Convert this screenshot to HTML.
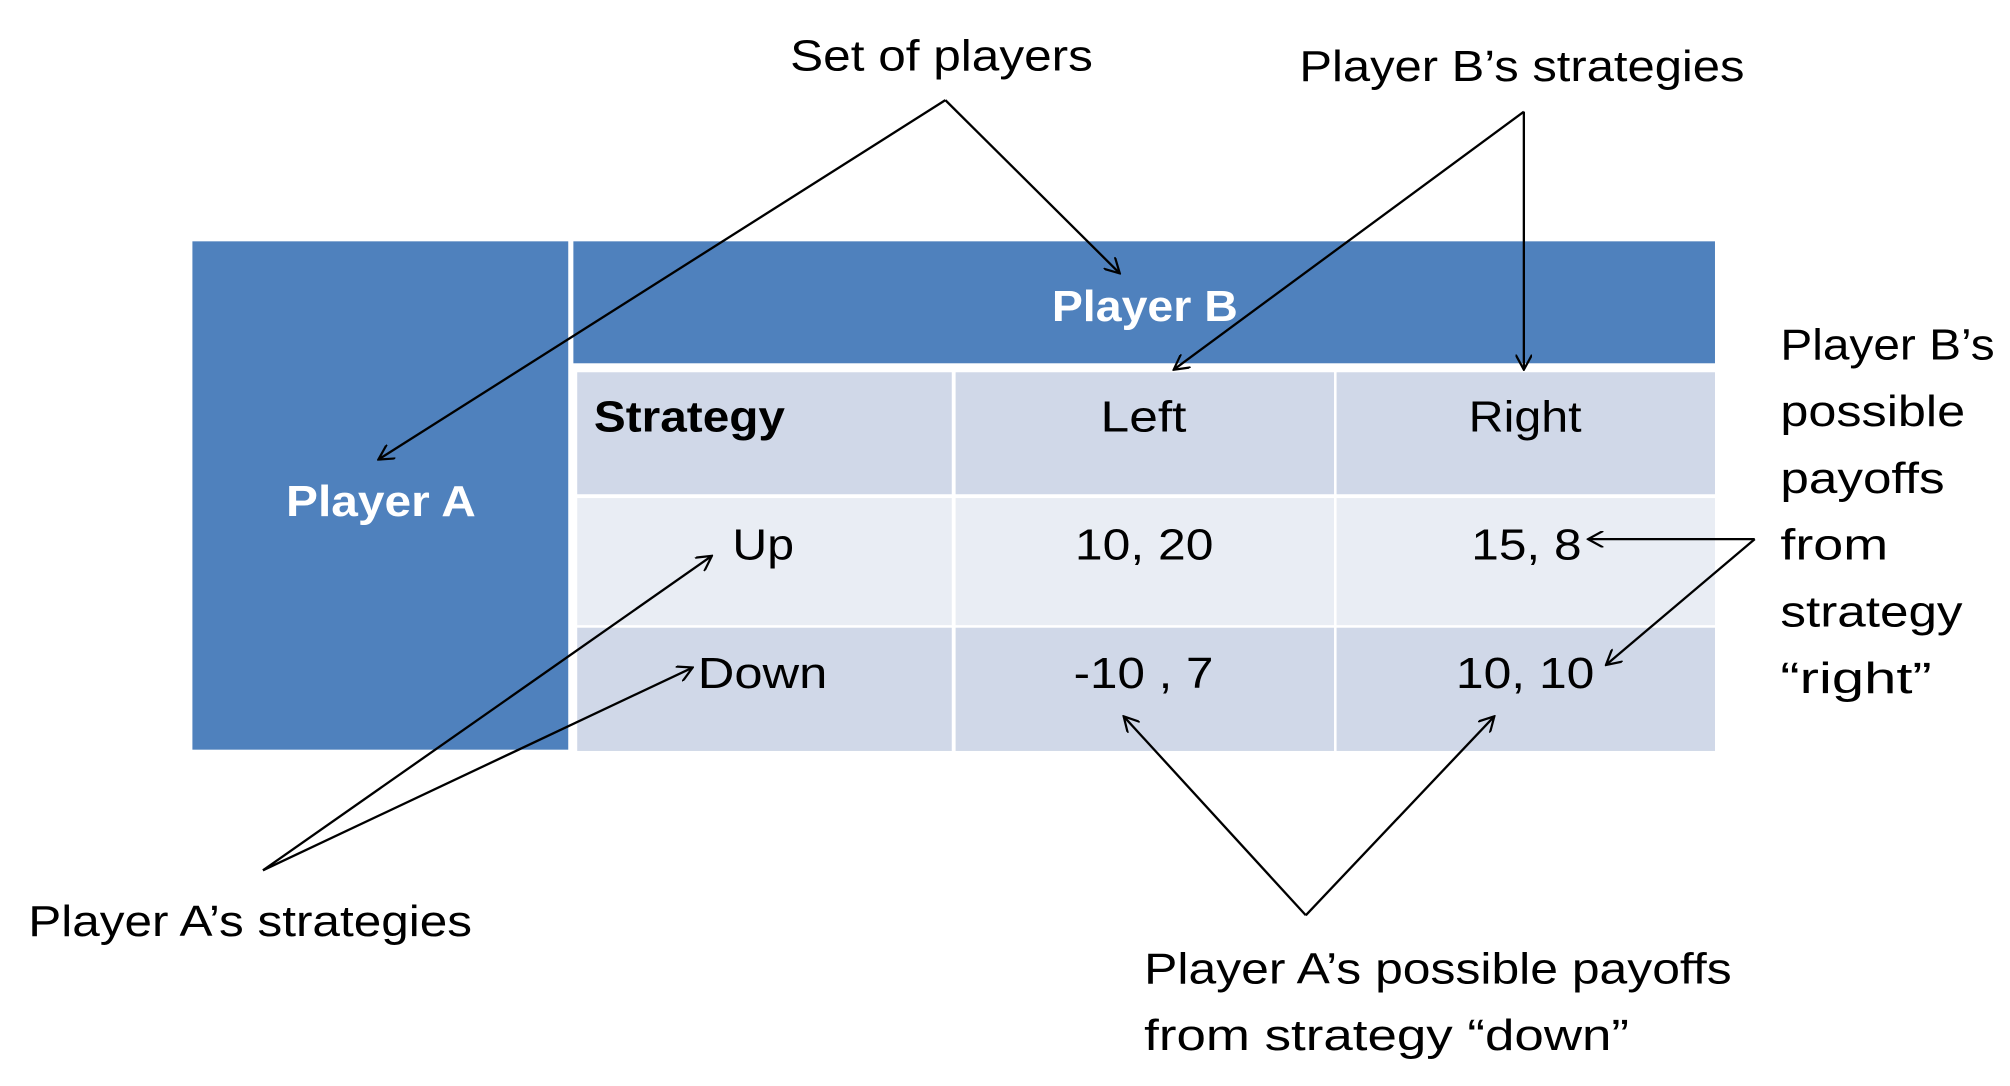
<!DOCTYPE html>
<html><head><style>html,body{margin:0;padding:0;background:#fff}svg{display:block}</style></head>
<body>
<svg width="2010" height="1086" viewBox="0 0 1567 846" preserveAspectRatio="none" xmlns="http://www.w3.org/2000/svg" font-family="Liberation Sans, sans-serif">
<defs>
<marker id="a" viewBox="0 0 12 12" refX="11" refY="6" markerWidth="13" markerHeight="13" markerUnits="userSpaceOnUse" orient="auto">
<path d="M0,0 L11,6 L0,12" fill="none" stroke="#000" stroke-width="1.6"/>
</marker>
</defs>
<rect x="150" y="188" width="293" height="396" fill="#4f81bd"/>
<rect x="447" y="188" width="890" height="95" fill="#4f81bd"/>
<rect x="450" y="290" width="292" height="95" fill="#d0d8e8"/>
<rect x="745" y="290" width="295" height="95" fill="#d0d8e8"/>
<rect x="1042" y="290" width="295" height="95" fill="#d0d8e8"/>
<rect x="450" y="388" width="292" height="99" fill="#e9edf4"/>
<rect x="745" y="388" width="295" height="99" fill="#e9edf4"/>
<rect x="1042" y="388" width="295" height="99" fill="#e9edf4"/>
<rect x="450" y="489" width="292" height="96" fill="#d0d8e8"/>
<rect x="745" y="489" width="295" height="96" fill="#d0d8e8"/>
<rect x="1042" y="489" width="295" height="96" fill="#d0d8e8"/>
<g font-size="34" fill="#fff" font-weight="bold">
<text x="820" y="250" textLength="145" lengthAdjust="spacingAndGlyphs">Player B</text>
<text x="223" y="402" textLength="148" lengthAdjust="spacingAndGlyphs">Player A</text>
</g>
<g font-size="34" fill="#000">
<text x="463" y="336" font-weight="bold" textLength="149" lengthAdjust="spacingAndGlyphs">Strategy</text>
<text x="858" y="336" textLength="67" lengthAdjust="spacingAndGlyphs">Left</text>
<text x="1145" y="336" textLength="88" lengthAdjust="spacingAndGlyphs">Right</text>
<text x="571" y="436" textLength="48" lengthAdjust="spacingAndGlyphs">Up</text>
<text x="838" y="436" textLength="108" lengthAdjust="spacingAndGlyphs">10, 20</text>
<text x="1147" y="436" textLength="86" lengthAdjust="spacingAndGlyphs">15, 8</text>
<text x="544" y="536" textLength="101" lengthAdjust="spacingAndGlyphs">Down</text>
<text x="837" y="536" textLength="109" lengthAdjust="spacingAndGlyphs">-10 , 7</text>
<text x="1135" y="536" textLength="108" lengthAdjust="spacingAndGlyphs">10, 10</text>
<text x="616" y="55" textLength="236" lengthAdjust="spacingAndGlyphs">Set of players</text>
<text x="1013" y="63" textLength="347" lengthAdjust="spacingAndGlyphs">Player B’s strategies</text>
<text x="22" y="729" textLength="346" lengthAdjust="spacingAndGlyphs">Player A’s strategies</text>
<text x="892" y="766" textLength="458" lengthAdjust="spacingAndGlyphs">Player A’s possible payoffs</text>
<text x="892" y="818" textLength="378" lengthAdjust="spacingAndGlyphs">from strategy “down”</text>
<text x="1388" y="280" textLength="167" lengthAdjust="spacingAndGlyphs">Player B’s</text>
<text x="1388" y="332" textLength="144" lengthAdjust="spacingAndGlyphs">possible</text>
<text x="1388" y="384" textLength="128" lengthAdjust="spacingAndGlyphs">payoffs</text>
<text x="1388" y="436" textLength="84" lengthAdjust="spacingAndGlyphs">from</text>
<text x="1388" y="488" textLength="142" lengthAdjust="spacingAndGlyphs">strategy</text>
<text x="1388" y="540" textLength="118" lengthAdjust="spacingAndGlyphs">“right”</text>
</g>
<g stroke="#000" stroke-width="1.8" fill="none" marker-end="url(#a)">
<line x1="737" y1="78" x2="295" y2="358"/>
<line x1="737" y1="78" x2="873" y2="213"/>
<line x1="1188" y1="87" x2="915" y2="288"/>
<line x1="1188" y1="87" x2="1188" y2="288"/>
<line x1="205" y1="678" x2="555" y2="433"/>
<line x1="205" y1="678" x2="540" y2="520"/>
<line x1="1018" y1="713" x2="876" y2="558"/>
<line x1="1018" y1="713" x2="1165" y2="558"/>
<line x1="1368" y1="420" x2="1238" y2="420"/>
<line x1="1368" y1="420" x2="1252" y2="518"/>
</g>
</svg>
</body></html>
